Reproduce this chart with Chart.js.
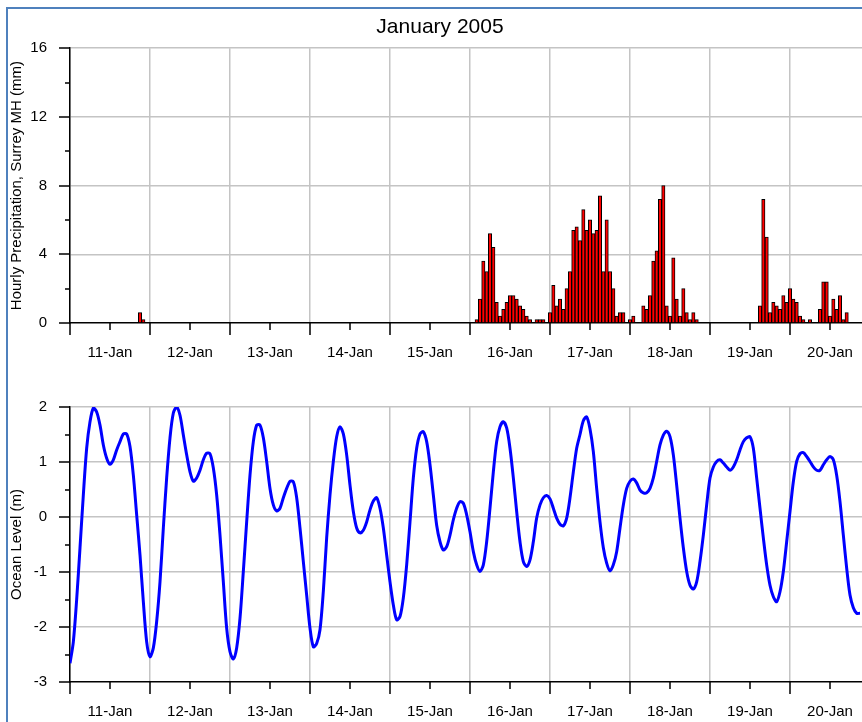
<!DOCTYPE html>
<html>
<head>
<meta charset="utf-8">
<script src="https://cdn.jsdelivr.net/npm/chart.js@4"></script>
<style>
  html, body { margin: 0; padding: 0; overflow: hidden; background: #fff; width: 862px; height: 722px; }
  #frame { position: absolute; left: 6px; top: 7px; width: 900px; height: 800px; border-left: 2px solid #4f81bd; border-top: 2px solid #4f81bd; pointer-events: none; }
  canvas { position: absolute; left: 0; }
</style>
</head>
<body>
<canvas id="rainChart" width="880" height="370" style="top:0"></canvas>
<canvas id="tideChart" width="880" height="352" style="top:370px"></canvas>
<div id="frame"></div>
<script>
// Day labels, one per day (shown at noon)
const dayLabels = ['11-Jan', '12-Jan', '13-Jan', '14-Jan', '15-Jan', '16-Jan', '17-Jan', '18-Jan', '19-Jan', '20-Jan'];

// Hourly precipitation (mm), from 11-Jan 00:00, one row per day
const precipMm = [
  0, 0, 0, 0, 0, 0, 0, 0, 0, 0, 0, 0, 0, 0, 0, 0, 0, 0, 0, 0, 0, 0.6, 0.2, 0,
  0, 0, 0, 0, 0, 0, 0, 0, 0, 0, 0, 0, 0, 0, 0, 0, 0, 0, 0, 0, 0, 0, 0, 0,
  0, 0, 0, 0, 0, 0, 0, 0, 0, 0, 0, 0, 0, 0, 0, 0, 0, 0, 0, 0, 0, 0, 0, 0,
  0, 0, 0, 0, 0, 0, 0, 0, 0, 0, 0, 0, 0, 0, 0, 0, 0, 0, 0, 0, 0, 0, 0, 0,
  0, 0, 0, 0, 0, 0, 0, 0, 0, 0, 0, 0, 0, 0, 0, 0, 0, 0, 0, 0, 0, 0, 0, 0,
  0, 0, 0.2, 1.4, 3.6, 3.0, 5.2, 4.4, 1.2, 0.4, 0.8, 1.2, 1.6, 1.6, 1.4, 1.0, 0.8, 0.4, 0.2, 0, 0.2, 0.2, 0.2, 0,
  0.6, 2.2, 1.0, 1.4, 0.8, 2.0, 3.0, 5.4, 5.6, 4.8, 6.6, 5.4, 6.0, 5.2, 5.4, 7.4, 3.0, 6.0, 3.0, 2.0, 0.4, 0.6, 0.6, 0,
  0.2, 0.4, 0, 0, 1.0, 0.8, 1.6, 3.6, 4.2, 7.2, 8.0, 1.0, 0.4, 3.8, 1.4, 0.4, 2.0, 0.6, 0.2, 0.6, 0.2, 0, 0, 0,
  0, 0, 0, 0, 0, 0, 0, 0, 0, 0, 0, 0, 0, 0, 0, 1.0, 7.2, 5.0, 0.6, 1.2, 1.0, 0.8, 1.6, 1.2,
  2.0, 1.4, 1.2, 0.4, 0.2, 0, 0.2, 0, 0, 0.8, 2.4, 2.4, 0.4, 1.4, 0.8, 1.6, 0.2, 0.6, 0, 0, 0, 0
];

// Hourly ocean level (m), from 11-Jan 00:00, one row per day
const oceanLevelM = [
  -2.66, -2.27, -1.5, -0.56, 0.4, 1.25, 1.73, 1.98, 1.91, 1.67, 1.31, 1.07, 0.96, 1.04, 1.22, 1.37, 1.51, 1.51, 1.28, 0.76, 0.04, -0.69, -1.54, -2.27,
  -2.54, -2.38, -1.9, -1.18, -0.2, 0.71, 1.44, 1.89, 2.0, 1.85, 1.49, 1.13, 0.82, 0.65, 0.71, 0.85, 1.04, 1.16, 1.15, 0.89, 0.4, -0.33, -1.18, -2.02,
  -2.45, -2.58, -2.38, -1.84, -0.99, -0.09, 0.76, 1.37, 1.67, 1.67, 1.44, 1.01, 0.52, 0.22, 0.11, 0.16, 0.35, 0.52, 0.65, 0.64, 0.35, -0.2, -0.81, -1.42,
  -2.02, -2.36, -2.3, -2.05, -1.35, -0.38, 0.4, 1.01, 1.46, 1.64, 1.51, 1.13, 0.58, 0.1, -0.2, -0.29, -0.24, -0.09, 0.13, 0.29, 0.35, 0.16, -0.2, -0.69,
  -1.18, -1.6, -1.87, -1.81, -1.47, -0.87, -0.09, 0.71, 1.25, 1.51, 1.55, 1.37, 0.95, 0.4, -0.15, -0.45, -0.6, -0.54, -0.33, -0.05, 0.16, 0.28, 0.25, 0.04,
  -0.27, -0.63, -0.87, -0.99, -0.87, -0.45, 0.16, 0.82, 1.37, 1.64, 1.73, 1.62, 1.25, 0.71, 0.1, -0.45, -0.81, -0.9, -0.78, -0.45, -0.02, 0.22, 0.35, 0.39,
  0.33, 0.16, -0.02, -0.13, -0.16, -0.02, 0.35, 0.82, 1.25, 1.5, 1.75, 1.82, 1.6, 1.19, 0.52, -0.09, -0.56, -0.84, -0.98, -0.87, -0.63, -0.2, 0.22, 0.52,
  0.65, 0.69, 0.62, 0.49, 0.44, 0.44, 0.52, 0.71, 1.01, 1.31, 1.49, 1.56, 1.46, 1.13, 0.58, -0.02, -0.56, -0.99, -1.24, -1.31, -1.18, -0.81, -0.33, 0.22,
  0.71, 0.91, 1.01, 1.04, 0.98, 0.91, 0.85, 0.91, 1.04, 1.22, 1.37, 1.44, 1.46, 1.25, 0.71, 0.16, -0.38, -0.87, -1.24, -1.45, -1.54, -1.36, -0.99, -0.45,
  0.1, 0.64, 1.01, 1.15, 1.17, 1.1, 1.01, 0.91, 0.85, 0.85, 0.95, 1.04, 1.1, 1.04, 0.76, 0.28, -0.33, -0.93, -1.42, -1.65, -1.75, -1.75
];

Chart.defaults.font.family = "'Liberation Sans', Arial, sans-serif";
Chart.defaults.font.size = 15;
Chart.defaults.color = '#000';
Chart.defaults.animation = false;

const gridGray = '#c4c4c4';
const lastHour = 243;

// Draws the black outside tick marks (long at labelled ticks, short between)
const tickMarks = {
  id: 'tickMarks',
  afterDraw(chart) {
    const { ctx, chartArea } = chart;
    const x = chart.scales.x, y = chart.scales.y;
    ctx.save();
    ctx.strokeStyle = '#000';
    ctx.lineWidth = 1.5;
    ctx.beginPath();
    x.ticks.forEach(t => {
      const px = Math.round(x.getPixelForValue(t.value));
      const len = t.value % 24 === 0 ? 12 : 7;
      ctx.moveTo(px, chartArea.bottom);
      ctx.lineTo(px, chartArea.bottom + len);
    });
    y.ticks.forEach(t => {
      const py = Math.round(y.getPixelForValue(t.value));
      const len = t.label !== '' ? 11 : 5;
      ctx.moveTo(chartArea.left, py);
      ctx.lineTo(chartArea.left - len, py);
    });
    ctx.stroke();
    ctx.restore();
  }
};

function timeAxis(axisHeight) {
  return {
    type: 'linear',
    min: 0,
    max: lastHour,
    offset: false,
    afterFit: s => {
      s.height = axisHeight;
      s.paddingLeft = 0;
      s.paddingRight = 0;
    },
    border: { color: '#000', width: 1.5 },
    grid: {
      offset: false,
      drawTicks: false,
      lineWidth: 1.5,
      color: c => (c.tick && c.tick.value % 24 === 0) ? gridGray : 'rgba(0,0,0,0)'
    },
    ticks: {
      stepSize: 12,
      includeBounds: false,
      autoSkip: false,
      maxRotation: 0,
      padding: 21,
      callback: v => v % 24 === 12 ? dayLabels[Math.floor(v / 24)] : ''
    }
  };
}

// Hourly precipitation bars
const rainCtx = document.getElementById('rainChart').getContext('2d');
const rainChart = new Chart(rainCtx, {
  type: 'bar',
  data: {
    datasets: [{
      label: 'Hourly Precipitation',
      data: precipMm.map((v, i) => ({ x: i, y: v })),
      backgroundColor: '#ff0000',
      borderColor: '#000',
      borderWidth: 1,
      barPercentage: 1,
      categoryPercentage: 1
    }]
  },
  options: {
    responsive: false,
    devicePixelRatio: 1,
    layout: { padding: 0 },
    plugins: {
      legend: { display: false },
      tooltip: { enabled: false },
      title: {
        display: true,
        text: 'January 2005',
        font: { size: 21, weight: 'normal' },
        padding: { top: 15, bottom: 8 }
      }
    },
    scales: {
      x: timeAxis(47),
      y: {
        min: 0,
        max: 16,
        afterFit: s => { s.width = 70; },
        border: { color: '#000', width: 1.5 },
        grid: {
          drawTicks: false,
          lineWidth: 1.5,
          color: c => (c.tick && c.tick.value % 4 === 0 && c.tick.value !== 0) ? gridGray : 'rgba(0,0,0,0)'
        },
        ticks: {
          stepSize: 2,
          padding: 23,
          callback: v => v % 4 === 0 ? v : ''
        },
        title: {
          display: true,
          text: 'Hourly Precipitation, Surrey MH (mm)',
          padding: { top: 8, bottom: 0 }
        }
      }
    }
  },
  plugins: [tickMarks]
});

// Ocean level line
const tideCtx = document.getElementById('tideChart').getContext('2d');
const tideChart = new Chart(tideCtx, {
  type: 'line',
  data: {
    datasets: [{
      label: 'Ocean Level',
      data: oceanLevelM.map((v, i) => ({ x: i, y: v })),
      borderColor: '#0000ff',
      borderWidth: 3,
      pointRadius: 0,
      tension: 0.3,
      fill: false
    }]
  },
  options: {
    responsive: false,
    devicePixelRatio: 1,
    layout: { padding: { top: 37, left: 0, right: 0, bottom: 0 } },
    plugins: {
      legend: { display: false },
      tooltip: { enabled: false }
    },
    scales: {
      x: timeAxis(40),
      y: {
        min: -3,
        max: 2,
        afterFit: s => { s.width = 70; },
        border: { color: '#000', width: 1.5 },
        grid: {
          drawTicks: false,
          lineWidth: 1.5,
          color: c => (c.tick && Number.isInteger(c.tick.value) && c.tick.value !== -3) ? gridGray : 'rgba(0,0,0,0)'
        },
        ticks: {
          stepSize: 0.5,
          padding: 23,
          callback: v => Number.isInteger(v) ? v : ''
        },
        title: {
          display: true,
          text: 'Ocean Level (m)',
          padding: { top: 8, bottom: 0 }
        }
      }
    }
  },
  plugins: [tickMarks]
});
</script>
</body>
</html>
